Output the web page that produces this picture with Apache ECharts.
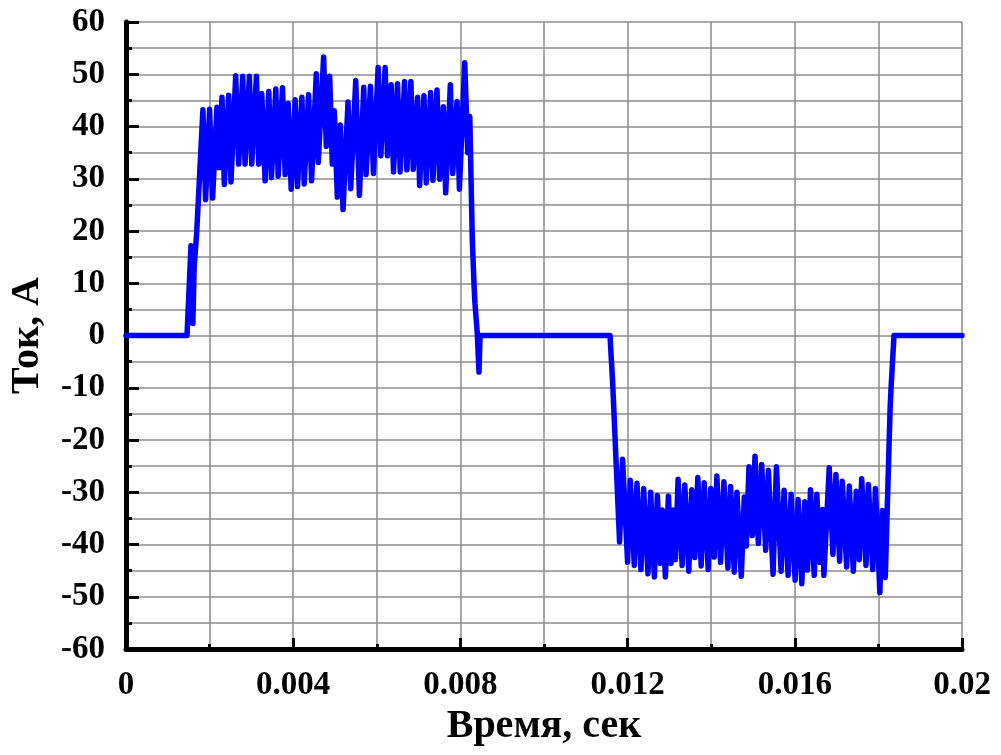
<!DOCTYPE html>
<html>
<head>
<meta charset="utf-8">
<script src="https://cdn.jsdelivr.net/npm/echarts@6/dist/echarts.min.js"></script>
<style>
  html, body { margin: 0; padding: 0; background: #fff; }
  #chart { width: 1001px; height: 755px; }
</style>
</head>
<body>
<div id="chart"></div>
<script>
// x tick labels (every 0.004 s)
var xLabels = ['0', '0.004', '0.008', '0.012', '0.016', '0.02'];

// zero level before the first pulse and its leading edge
var startTime = [0, 0.00146, 0.001555, 0.0016, 0.00163, 0.00169];
var startCurrent = [0, 0, 17.2, 2.3, 13, 19.5];

// positive pulse: peaks and troughs
var posTime = [
  0.00184, 0.001904, 0.002, 0.002072, 0.002176, 0.002224, 0.002296, 0.002352,
  0.002456, 0.002512, 0.002624, 0.002696, 0.002792, 0.002848, 0.002952, 0.003008,
  0.00312, 0.003176, 0.003248, 0.003328, 0.003416, 0.00348, 0.003584, 0.00364,
  0.003744, 0.003808, 0.00388, 0.003952, 0.004048, 0.004104, 0.004208, 0.004264,
  0.004368, 0.00444, 0.004552, 0.0046, 0.004728, 0.004792, 0.004872, 0.004936,
  0.004984, 0.005056, 0.005128, 0.005192, 0.005312, 0.005376, 0.005496, 0.005584,
  0.005688, 0.005744, 0.005848, 0.00592, 0.006032, 0.006096, 0.0062, 0.006256,
  0.006344, 0.0064, 0.006496, 0.00656, 0.006664, 0.00672, 0.006816, 0.006872,
  0.006976, 0.007024, 0.007128, 0.007184, 0.007288, 0.007344, 0.00744, 0.007504,
  0.007592, 0.007648, 0.00776, 0.007816, 0.00792, 0.007976, 0.008104, 0.008176,
  0.008224
];
var posCurrent = [
  43.2, 26, 43.3, 26.3, 43.7, 32.1, 45.6, 28.9,
  46, 29.4, 49.7, 32.8, 49.6, 32.8, 49.6, 32.8,
  49.6, 32.8, 46.3, 29.6, 46.7, 30.2, 47.2, 30.5,
  47.4, 30.8, 44.4, 28, 45.1, 28.5, 45.6, 29,
  46.1, 29.6, 50.1, 33.1, 53.3, 36.2, 49.6, 32.8,
  43, 26.5, 40.3, 24.1, 44.7, 28.1, 48.8, 26.8,
  47.5, 30.8, 47.7, 31, 51.3, 34.4, 51.3, 34.4,
  48, 31.3, 48.2, 31.3, 48.6, 31.7, 48.6, 31.8,
  45.6, 28.7, 45.9, 29.2, 46.5, 29.7, 47, 29.9,
  43.8, 27.3, 48, 31, 44.8, 28, 52.2, 35,
  41.9
];

// trailing edge of the positive pulse and the pause
var pauseTime = [0.008285, 0.00833, 0.008349, 0.008404, 0.008445, 0.00847, 0.011579, 0.011643];
var pauseCurrent = [18.2, 9, 6.1, 0.4, -7, 0, 0, -9.1];

// negative pulse: troughs and peaks
var negTime = [
  0.011808, 0.01188, 0.012, 0.012064, 0.01216, 0.012224, 0.01232, 0.012384,
  0.012488, 0.012552, 0.01264, 0.012712, 0.012784, 0.012832, 0.012904, 0.012976,
  0.01304, 0.013096, 0.013144, 0.013208, 0.013304, 0.013368, 0.013464, 0.013536,
  0.013608, 0.01368, 0.01376, 0.013832, 0.013928, 0.013992, 0.014072, 0.014136,
  0.014224, 0.014304, 0.0144, 0.014464, 0.014552, 0.014616, 0.01472, 0.014792,
  0.01484, 0.014904, 0.014984, 0.015048, 0.015128, 0.015208, 0.015304, 0.015368,
  0.01548, 0.01556, 0.015672, 0.015744, 0.01584, 0.015912, 0.016008, 0.01608,
  0.016168, 0.01624, 0.016304, 0.016376, 0.016464, 0.016528, 0.0166, 0.016664,
  0.016696, 0.016824, 0.016912, 0.016984, 0.017072, 0.017136, 0.01724, 0.017304,
  0.0174, 0.017472, 0.017544, 0.0176, 0.017704, 0.01776, 0.017864, 0.017928,
  0.018035, 0.018095, 0.018165
];
var negCurrent = [
  -39.5, -23.7, -43.4, -27.7, -44, -28.3, -44.8, -29.3,
  -45.6, -30, -46.2, -30.6, -43.6, -33.4, -46.2, -30.7,
  -43.6, -33.4, -42.9, -27.5, -44, -28.6, -45.1, -29.5,
  -42.5, -27.2, -44.1, -28.2, -44.8, -29.3, -42.4, -26.9,
  -43.4, -28, -44.5, -28.9, -45.3, -30, -46.1, -30.9,
  -40.3, -25.1, -38.3, -23.1, -39.8, -24.7, -41.1, -25.8,
  -45.7, -25.1, -45.1, -29.6, -45.9, -30.4, -46.8, -31.4,
  -47.5, -31.8, -44.9, -29.5, -45.9, -30.4, -43.4, -33.3,
  -45.9, -25.3, -41.9, -26.6, -43.2, -27.9, -44.3, -28.8,
  -45.1, -29.8, -42.9, -27.4, -44, -28.5, -44.8, -29.3,
  -49.2, -33.5, -46.3
];

// trailing edge of the negative pulse and the final zero level
var endTime = [0.01828, 0.0183, 0.018373, 0.02];
var endCurrent = [-14, -10.5, 0, 0];

var allTime = startTime.concat(posTime, pauseTime, negTime, endTime);
var allCurrent = startCurrent.concat(posCurrent, pauseCurrent, negCurrent, endCurrent);
var seriesData = [];
for (var i = 0; i < allTime.length; i++) {
  seriesData.push([allTime[i], allCurrent[i]]);
}

var fontFam = "'Times New Roman', 'Liberation Serif', serif";
var gridColor = '#8c8c8c';

var chart = echarts.init(document.getElementById('chart'));
chart.setOption({
  animation: false,
  backgroundColor: '#fff',
  grid: { left: 126, right: 39, top: 22, bottom: 106, containLabel: false },
  xAxis: {
    type: 'value',
    min: 0,
    max: 0.02,
    interval: 0.004,
    name: 'Время, сек',
    nameLocation: 'middle',
    nameGap: 55,
    nameTextStyle: { fontFamily: fontFam, fontWeight: 'bold', fontSize: 40, color: '#000' },
    axisLine: { show: true, onZero: false, lineStyle: { color: '#000', width: 5 } },
    axisTick: { show: true, inside: true, length: 11, lineStyle: { color: '#000', width: 3 } },
    minorTick: { show: true, splitNumber: 2, length: 5, lineStyle: { color: '#000', width: 3 } },
    axisLabel: {
      margin: 20,
      fontFamily: fontFam, fontWeight: 'bold', fontSize: 33, color: '#000',
      formatter: function (v) { return xLabels[Math.round(v / 0.004)]; }
    },
    splitLine: { show: true, lineStyle: { color: gridColor, width: 1.5 } },
    minorSplitLine: { show: true, lineStyle: { color: gridColor, width: 1.5 } }
  },
  yAxis: {
    type: 'value',
    min: -60,
    max: 60,
    interval: 10,
    name: 'Ток, А',
    nameLocation: 'middle',
    nameRotate: 90,
    nameGap: 78,
    nameTextStyle: { fontFamily: fontFam, fontWeight: 'bold', fontSize: 40, color: '#000' },
    axisLine: { show: true, onZero: false, lineStyle: { color: '#000', width: 5 } },
    axisTick: { show: true, inside: true, length: 13, lineStyle: { color: '#000', width: 3 } },
    minorTick: { show: true, splitNumber: 2, length: 6, lineStyle: { color: '#000', width: 3 } },
    axisLabel: {
      margin: 21,
      fontFamily: fontFam, fontWeight: 'bold', fontSize: 33, color: '#000'
    },
    splitLine: { show: true, lineStyle: { color: gridColor, width: 1.5 } },
    minorSplitLine: { show: true, lineStyle: { color: gridColor, width: 1.5 } }
  },
  series: [{
    type: 'line',
    data: seriesData,
    showSymbol: false,
    smooth: false,
    clip: false,
    lineStyle: { color: '#0000ff', width: 5.5, cap: 'round', join: 'round' }
  }]
});
</script>
</body>
</html>
